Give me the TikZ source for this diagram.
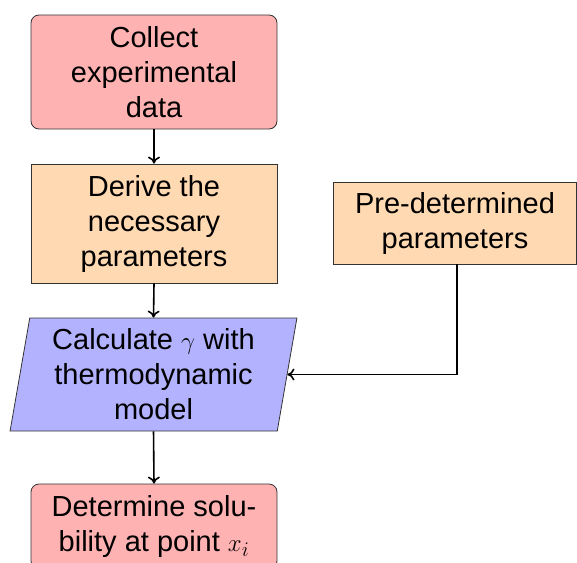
\documentclass[tikz,border=0pt]{standalone}
\usepackage{fontspec}
\setmainfont{Liberation Sans}
\usetikzlibrary{shapes.geometric,arrows.meta}
\begin{document}
\begin{tikzpicture}[x=1pt,y=-1pt,
  txt/.style={font=\fontsize{29}{35}\selectfont, align=center, text=black},
  boxbase/.style={txt, draw=black!80, line width=0.8pt, inner sep=0pt},
  redbox/.style={boxbase, rectangle, rounded corners=8pt, fill=red!30},
  orangebox/.style={boxbase, rectangle, fill=orange!30},
  parabox/.style={boxbase, trapezium, trapezium left angle=80, trapezium right angle=100,
    trapezium stretches=true, fill=blue!30},
  flow/.style={line width=1.6pt, -{To[length=7pt,width=12pt]}}
]
\useasboundingbox (0,0) rectangle (577,562);
\node[redbox, minimum width=246pt, minimum height=114pt] (collect) at (154,72)
  {Collect\\experimental\\data};
\node[orangebox, minimum width=246pt, minimum height=119pt] (derive) at (154,223.5)
  {Derive the\\necessary\\parameters};
\node[orangebox, minimum width=243pt, minimum height=82pt] (pre) at (455,223)
  {Pre-determined\\parameters};
\node[parabox, minimum width=287pt, minimum height=113pt] (calc) at (153.5,374.5)
  {Calculate $\gamma$ with\\thermodynamic\\model};
\node[redbox, minimum width=246pt, minimum height=85pt] (det) at (154,526.5)
  {Determine solu-\\bility at point $x_i$};
\draw[flow] (collect.south) -- (derive.north);
\draw[flow] (derive.south) -- (calc.north);
\draw[flow] (calc.south) -- (det.north);
\draw[flow] ([xshift=2pt]pre.south) |- (calc.east);
\end{tikzpicture}
\end{document}
